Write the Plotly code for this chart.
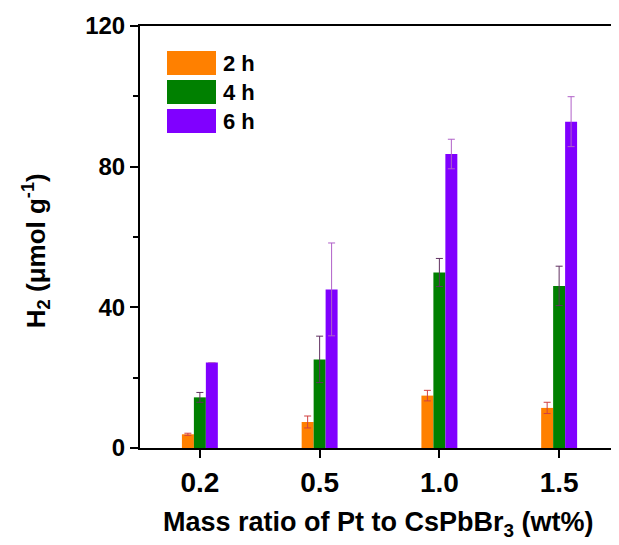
import plotly.graph_objects as go

categories = ["0.2", "0.5", "1.0", "1.5"]
series_names = ["2 h", "4 h", "6 h"]
values_2h = [3.9, 7.4, 14.9, 11.4]
errors_2h = [0.3, 1.7, 1.5, 1.6]
values_4h = [14.4, 25.2, 49.9, 46.1]
errors_4h = [1.4, 6.6, 4.0, 5.6]
values_6h = [24.3, 45.1, 83.6, 92.8]
errors_6h = [0.0, 13.2, 4.2, 7.1]
bar_colors = ["#ff8000", "#008000", "#8000ff"]
err_colors = ["#d04040", "#603060", "#b060c8"]
y_ticks = [0, 40, 80, 120]

FONT = "Arial, Liberation Sans, sans-serif"
OFF = 8  # page body margin
W, H = 619 - OFF, 545 - OFF
L, R, T = 140 - OFF, 0, 26 - OFF
B = H - (447.7 - OFF)
pw, ph = W - L - R, H - T - B


def px(x):
    return (x - OFF - L) / pw


def py(y):
    return 1 - (y - OFF - T) / ph


fig = go.Figure()
for name, vals, errs, c, ec in zip(series_names, [values_2h, values_4h, values_6h],
                                    [errors_2h, errors_4h, errors_6h], bar_colors, err_colors):
    fig.add_trace(go.Bar(
        x=categories, y=vals, name=name, marker=dict(color=c, line=dict(width=0)),
        error_y=dict(type="data", array=errs, color=ec, thickness=1, width=3.5, visible=True),
        showlegend=False,
    ))

# custom legend (large swatches)
for i, (name, c) in enumerate(zip(series_names, bar_colors)):
    top = 51 + i * 29
    fig.add_shape(type="rect", xref="paper", yref="paper",
                  x0=px(167), x1=px(216), y0=py(top), y1=py(top + 24),
                  fillcolor=c, line=dict(width=0))
    fig.add_annotation(text="<b>%s</b>" % name, xref="paper", yref="paper",
                       x=px(221), y=py(top + 12),
                       xanchor="left", yanchor="middle", showarrow=False,
                       font=dict(family=FONT, size=22, color="black"))

fig.add_annotation(text="<b>H<sub>2</sub> (μmol g<sup>-1</sup>)</b>", xref="paper", yref="paper",
                   x=px(36), y=py(251), textangle=-90,
                   xanchor="center", yanchor="middle", showarrow=False,
                   font=dict(family=FONT, size=26, color="black"))
fig.add_annotation(text="<b>Mass ratio of Pt to CsPbBr<sub>3</sub> (wt%)</b>", xref="paper", yref="paper",
                   x=px(378), y=py(524),
                   xanchor="center", yanchor="middle", showarrow=False,
                   font=dict(family=FONT, size=27, color="black"))

fig.update_layout(
    width=W, height=H, margin=dict(l=L, r=R, t=T, b=B),
    paper_bgcolor="white", plot_bgcolor="white",
    barmode="group", bargap=0.7, bargroupgap=0,
    font=dict(family=FONT, color="black"),
)
fig.update_xaxes(
    type="category", range=[-0.5, 3.5], showline=True, linecolor="black", linewidth=2,
    mirror=True, ticks="outside", ticklen=8, tickwidth=2, tickcolor="black",
    ticktext=["<b>%s</b>" % c for c in categories], tickvals=categories,
    tickfont=dict(family=FONT, size=28, color="black"), showgrid=False,
)
fig.update_yaxes(
    range=[0, 120], tickvals=y_ticks, ticktext=["<b>%d</b>" % v for v in y_ticks],
    showline=True, linecolor="black", linewidth=2, ticks="outside", ticklen=8, tickwidth=2,
    tickcolor="black", tickfont=dict(family=FONT, size=24, color="black"),
    showgrid=False, zeroline=False,
    minor=dict(tickvals=[20, 60, 100], ticks="outside", ticklen=5, tickwidth=2, tickcolor="black"),
)

fig.write_html("out.html")
